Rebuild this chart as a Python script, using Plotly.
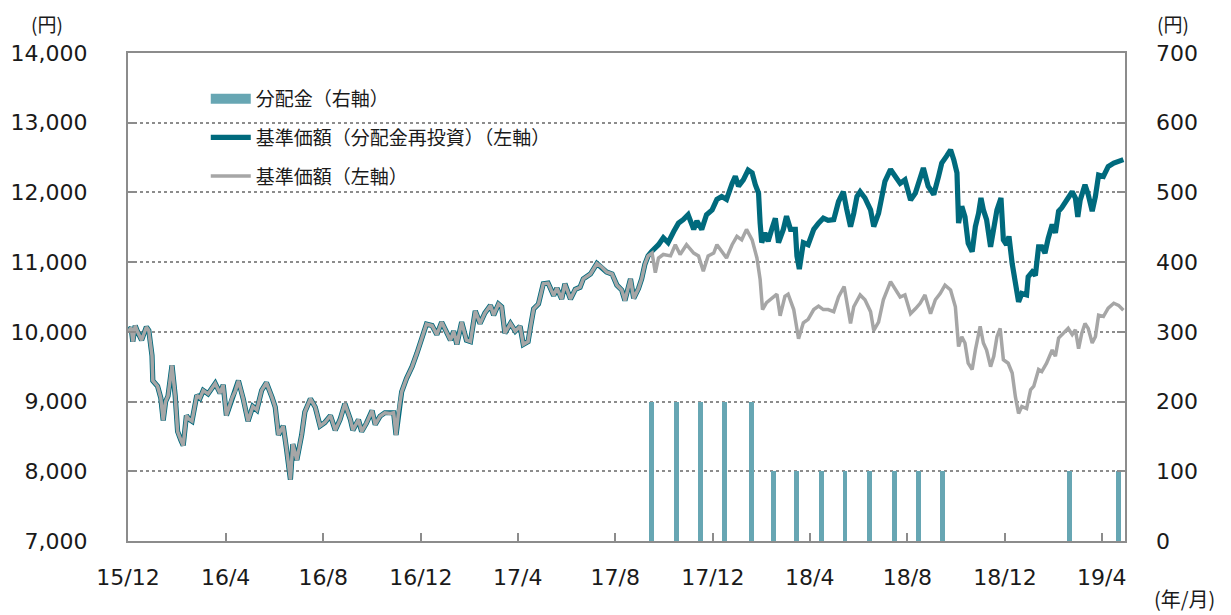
import pandas as pd
import plotly.graph_objects as go

START = pd.Timestamp("2015-12-01")

# ---- data (days since 2015-12-01, values in yen) ----
shared_days = [0, 4, 6, 9, 12, 17, 23, 26, 30, 31, 37, 41, 44, 47, 50, 55, 59, 62, 66, 69, 73, 76, 80,
               86, 90, 94, 100, 105, 109, 115, 119, 123, 130, 134, 138, 144, 150, 156, 161, 167, 173,
               180, 184, 188, 194, 198, 203, 206, 211, 217, 221, 228, 234, 240, 246, 253, 259, 265,
               271, 278, 281, 288, 292, 298, 305, 309, 315, 321, 328, 332, 335, 338, 342, 348, 355,
               361, 367, 373, 380, 386, 392, 396, 403, 407, 411, 417, 423, 428, 434, 440, 446, 453,
               457, 463, 467, 471, 478, 484, 490, 494, 500, 503, 507, 513, 519, 525, 532, 536, 542,
               546, 553, 559, 565, 569, 578, 586, 592, 598, 605, 611, 617, 621, 628, 632, 638, 642,
               646, 650]
shared_vals = [10000, 10060, 9860, 10090, 10000, 9880, 10070, 10020, 9660, 9300, 9220, 9050, 8730,
               9000, 9080, 9520, 9080, 8570, 8450, 8370, 8800, 8750, 8720, 9090, 9050, 9160, 9110,
               9200, 9260, 9120, 9240, 8800, 9050, 9150, 9300, 9040, 8720, 8930, 8880, 9160, 9270,
               9060, 8920, 8520, 8650, 8330, 7880, 8390, 8160, 8520, 8850, 9040, 8920, 8650, 8700,
               8800, 8590, 8740, 8970, 8740, 8590, 8740, 8570, 8690, 8870, 8670, 8790, 8840, 8830,
               8840, 8520, 8840, 9140, 9330, 9500, 9690, 9900, 10110, 10090, 9960, 10140, 10050,
               9880, 10010, 9820, 10140, 9880, 9860, 10300, 10120, 10270, 10380, 10240, 10400,
               10360, 9980, 10120, 10010, 10080, 9820, 9860, 10070, 10330, 10400, 10690, 10700,
               10520, 10630, 10470, 10690, 10470, 10610, 10640, 10760, 10830, 10980, 10930, 10860,
               10830, 10670, 10600, 10450, 10760, 10480, 10620, 10760, 10970, 11090]

nav_days = [655, 659, 663, 669, 678, 684, 690, 698, 707, 713, 719, 725, 732, 736, 742, 748, 755, 761,
            767, 773, 780, 786, 790, 793, 798, 805, 811, 815, 821, 825, 832, 838, 844, 850, 857, 863,
            869, 875, 882, 888, 895, 903, 907, 915, 921, 928, 932, 938, 944, 953, 959, 965, 971, 978,
            984, 990, 996, 1003, 1009, 1015, 1021, 1028, 1034, 1038, 1042, 1046, 1050, 1055, 1059,
            1065, 1069, 1073, 1078, 1082, 1086, 1090, 1094, 1100, 1105, 1109, 1113, 1117, 1123, 1128,
            1132, 1138, 1142, 1148, 1155, 1159, 1163, 1169, 1175, 1180, 1184, 1188, 1192, 1196, 1200,
            1205, 1209, 1213, 1219, 1225, 1232, 1238, 1244]
nav_vals = [11130, 10850, 11060, 11110, 11090, 11250, 11110, 11250, 11130, 11090, 10870, 11090, 11130,
            11250, 11160, 11060, 11250, 11370, 11320, 11470, 11320, 11060, 10750, 10320, 10420, 10490,
            10540, 10230, 10510, 10540, 10320, 9900, 10130, 10180, 10320, 10370, 10320, 10320, 10290,
            10500, 10650, 10120, 10360, 10530, 10460, 10290, 10020, 10140, 10460, 10720, 10600, 10500,
            10530, 10260, 10330, 10410, 10530, 10260, 10460, 10550, 10670, 10600, 10360, 9790, 9930,
            9840, 9550, 9460, 9740, 10080, 9840, 9740, 9500, 9650, 9930, 10050, 9600, 9550, 9410, 9070,
            8830, 8930, 8900, 9170, 9220, 9460, 9430, 9550, 9740, 9650, 9910, 9980, 10050, 9960, 10030,
            9760, 9980, 10120, 10050, 9840, 9930, 10240, 10220, 10340, 10410, 10380, 10310]

reinv_days = [655, 659, 663, 669, 675, 682, 688, 694, 700, 707, 711, 717, 723, 730, 736, 742, 748, 755,
              759, 763, 769, 775, 780, 784, 788, 790, 792, 796, 800, 805, 809, 813, 819, 823, 828, 834,
              836, 839, 844, 850, 857, 863, 869, 875, 882, 888, 894, 898, 903, 907, 911, 915, 921, 928,
              932, 938, 942, 946, 953, 959, 965, 971, 978, 984, 990, 994, 1000, 1007, 1013, 1017, 1023,
              1028, 1032, 1036, 1038, 1042, 1046, 1050, 1055, 1059, 1063, 1066, 1069, 1073, 1078, 1082,
              1086, 1091, 1094, 1098, 1101, 1105, 1109, 1113, 1117, 1123, 1125, 1130, 1134, 1138, 1142,
              1146, 1150, 1155, 1159, 1163, 1167, 1173, 1180, 1184, 1187, 1190, 1196, 1200, 1205, 1209,
              1213, 1219, 1225, 1232, 1238, 1244]
reinv_vals = [11160, 11200, 11250, 11350, 11280, 11440, 11560, 11610, 11680, 11470, 11590, 11470, 11680,
              11750, 11900, 11940, 11900, 12130, 12230, 12090, 12180, 12320, 12280, 12110, 11990, 11560,
              11280, 11420, 11300, 11490, 11630, 11280, 11470, 11660, 11470, 11470, 11090, 10900, 11280,
              11250, 11470, 11560, 11630, 11600, 11610, 11870, 12010, 11770, 11510, 11700, 11940, 12010,
              11920, 11750, 11510, 11700, 11940, 12160, 12330, 12230, 12130, 12180, 11890, 11990, 12180,
              12350, 12090, 11970, 12230, 12420, 12520, 12610, 12470, 12280, 11560, 11800, 11650, 11270,
              11150, 11510, 11700, 11920, 11750, 11610, 11220, 11460, 11750, 11920, 11320, 11250, 11370,
              10980, 10650, 10430, 10550, 10530, 10790, 10860, 10810, 11220, 11220, 11130, 11340, 11540,
              11420, 11730, 11780, 11890, 12010, 11920, 11650, 11890, 12110, 11970, 11730, 11940, 12250,
              12230, 12370, 12420, 12450, 12470]

dist_dates = ["2017-09-15", "2017-10-16", "2017-11-15", "2017-12-15", "2018-01-18", "2018-02-15",
              "2018-03-15", "2018-04-16", "2018-05-15", "2018-06-15", "2018-07-16", "2018-08-15",
              "2018-09-14", "2019-02-20", "2019-04-22"]
dist_vals = [200, 200, 200, 200, 200, 100, 100, 100, 100, 100, 100, 100, 100, 100, 100]

tick_dates = ["2015-12-01", "2016-04-01", "2016-08-01", "2016-12-01", "2017-04-01", "2017-08-01",
              "2017-12-01", "2018-04-01", "2018-08-01", "2018-12-01", "2019-04-01"]
tick_text = ["15/12", "16/4", "16/8", "16/12", "17/4", "17/8", "17/12", "18/4", "18/8", "18/12", "19/4"]

# ---- build ----
def to_dates(days):
    return START + pd.to_timedelta(days, unit="D")

gray_x = to_dates(shared_days + nav_days)
gray_y = shared_vals + nav_vals
teal_x = to_dates(shared_days + reinv_days)
teal_y = shared_vals + reinv_vals

BAR_C = "#67a6b3"
TEAL = "#006a7d"
GRAY = "#a6a6a6"
AXC = "#8c8c8c"
TXT = "#1a1a1a"
FONT = "DejaVu Sans, Verdana, sans-serif"
CJK = "Noto Sans CJK JP, sans-serif"

fig = go.Figure()
fig.add_trace(go.Bar(x=pd.to_datetime(dist_dates), y=dist_vals, yaxis="y2", marker_color=BAR_C,
                     marker_line_width=0, width=6 * 86400000, showlegend=False))
fig.add_trace(go.Scatter(x=teal_x, y=teal_y, mode="lines", line=dict(color=TEAL, width=5.2),
                         showlegend=False))
fig.add_trace(go.Scatter(x=gray_x, y=gray_y, mode="lines", line=dict(color=GRAY, width=3.5),
                         showlegend=False))
# legend entries
fig.add_trace(go.Scatter(x=[None], y=[None], mode="lines", line=dict(color=BAR_C, width=10),
                         name="分配金（右軸）", legendgroup="a"))
fig.add_trace(go.Scatter(x=[None], y=[None], mode="lines", line=dict(color=TEAL, width=5.2),
                         name="基準価額（分配金再投資）（左軸）", legendgroup="b"))
fig.add_trace(go.Scatter(x=[None], y=[None], mode="lines", line=dict(color=GRAY, width=3.5),
                         name="基準価額（左軸）", legendgroup="c"))

fig.update_layout(
    width=1223, height=607,
    margin=dict(l=120, r=106, t=45, b=74, autoexpand=False),
    paper_bgcolor="white", plot_bgcolor="white",
    font=dict(family=FONT, size=22, color=TXT),
    showlegend=True,
    legend=dict(x=0.078, y=0.945, xanchor="left", yanchor="top", bgcolor="rgba(0,0,0,0)",
                font=dict(family=CJK, size=19, color=TXT), tracegroupgap=11,
                itemwidth=40),
    bargap=0,
    xaxis=dict(type="date", range=["2015-12-01", "2019-04-30"], tickvals=pd.to_datetime(tick_dates),
               ticktext=tick_text, ticks="inside", ticklen=8, tickcolor=AXC, tickwidth=2,
               showline=True, linecolor=AXC, linewidth=2, mirror=True, showgrid=False,
               zeroline=False, ticklabelstandoff=16, automargin=False),
    yaxis=dict(range=[7000, 14000], dtick=1000, tickformat=",d", ticks="inside", ticklen=8,
               tickcolor=AXC, tickwidth=2, showline=True, linecolor=AXC, linewidth=2, mirror=True,
               showgrid=True, gridcolor="#8c8c8c", griddash="dot", gridwidth=1.5, zeroline=False,
               ticklabelstandoff=34, automargin=False),
    yaxis2=dict(range=[0, 700], dtick=100, overlaying="y", side="right", ticks="inside", ticklen=8,
                tickcolor=AXC, tickwidth=2, showgrid=False, zeroline=False, showline=False,
                ticklabelstandoff=30, automargin=False),
)
fig.add_annotation(text="(円)", xref="paper", yref="paper", x=-0.081, y=1.061, showarrow=False,
                   xanchor="center", yanchor="middle", font=dict(family=CJK, size=19, color=TXT))
fig.add_annotation(text="(円)", xref="paper", yref="paper", x=1.048, y=1.061, showarrow=False,
                   xanchor="center", yanchor="middle", font=dict(family=CJK, size=19, color=TXT))
fig.add_annotation(text="(年/月)", xref="paper", yref="paper", x=1.06, y=-0.117, showarrow=False,
                   xanchor="center", yanchor="middle", font=dict(family=CJK, size=20, color=TXT))

fig.write_html("out.html")
